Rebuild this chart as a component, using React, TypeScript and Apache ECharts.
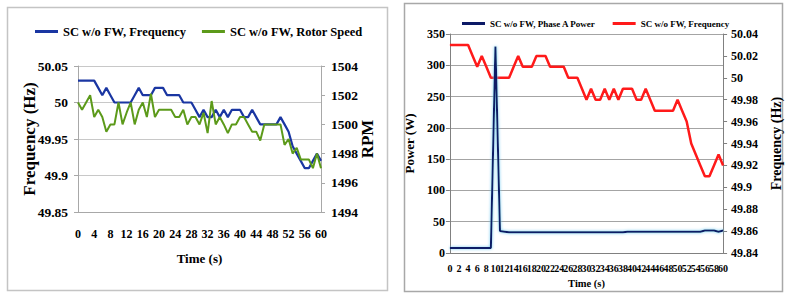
import React, { useEffect, useRef } from 'react';
import * as echarts from 'echarts';

const timeSec = [
  '0', '1', '2', '3', '4', '5', '6', '7', '8', '9', '10', '11', '12', '13', '14', '15', '16', '17', '18', '19', '20',
  '21', '22', '23', '24', '25', '26', '27', '28', '29', '30', '31', '32', '33', '34', '35', '36', '37', '38', '39', '40',
  '41', '42', '43', '44', '45', '46', '47', '48', '49', '50', '51', '52', '53', '54', '55', '56', '57', '58', '59', '60',
];

// SC w/o FW, Frequency (Hz)
const freqHz = [
  50.03, 50.03, 50.03, 50.03, 50.03, 50.02, 50.01, 50.02, 50.01, 50.0,
  50.0, 50.0, 50.0, 50.0, 50.01, 50.02, 50.01, 50.01, 50.01, 50.02,
  50.02, 50.02, 50.01, 50.01, 50.01, 50.01, 50.0, 50.0, 50.0, 49.99,
  49.98, 49.99, 49.98, 49.98, 49.99, 49.98, 49.99, 49.98, 49.99, 49.99,
  49.99, 49.98, 49.98, 49.99, 49.98, 49.97, 49.97, 49.97, 49.97, 49.97,
  49.98, 49.97, 49.96, 49.94, 49.93, 49.92, 49.91, 49.91, 49.92, 49.93,
  49.92,
];

// SC w/o FW, Rotor Speed (RPM)
const rotorRpm = [
  1501.5, 1501.0, 1501.5, 1502.0, 1500.5, 1501.0, 1500.5, 1499.5, 1500.0, 1500.0,
  1501.5, 1500.0, 1500.8, 1501.5, 1500.0, 1501.0, 1501.5, 1500.5, 1502.1, 1500.5,
  1501.0, 1501.0, 1501.0, 1501.0, 1500.5, 1500.5, 1501.0, 1500.0, 1500.5, 1500.5,
  1500.0, 1500.8, 1499.4, 1501.6, 1500.0, 1500.5, 1500.0, 1499.4, 1500.0, 1500.0,
  1500.5, 1500.5, 1500.0, 1499.5, 1499.5, 1498.9, 1500.0, 1500.0, 1500.0, 1500.0,
  1500.0, 1498.6, 1499.0, 1498.0, 1498.4, 1497.6, 1497.6, 1497.6, 1497.0, 1498.0,
  1497.0,
];

// SC w/o FW, Phase A Power (W)
const powerW = [
  8, 8, 8, 8, 8, 8, 8, 8, 8, 8,
  330, 35, 34, 33, 33, 33, 33, 33, 33, 33,
  33, 33, 33, 33, 33, 33, 33, 33, 33, 33,
  33, 33, 33, 33, 33, 33, 33, 33, 33, 34,
  34, 34, 34, 34, 34, 34, 34, 34, 34, 34,
  34, 34, 34, 34, 34, 34, 36, 36, 36, 34,
  36,
];

const FONT = '"Liberation Serif", "Times New Roman", serif';

const txt = (size: number) => ({
  fontFamily: FONT,
  fontWeight: 'bold' as const,
  fontSize: size,
  color: '#000',
});

function leftOption(): any {
  return {
    animation: false,
    textStyle: { fontFamily: FONT, fontWeight: 'bold', color: '#000' },
    graphic: [
      {
        type: 'rect',
        silent: true,
        z: -10,
        shape: { x: 7.5, y: 7.5, width: 380, height: 283 },
        style: { fill: '#fff', stroke: '#c4c4c4', lineWidth: 1.5 },
      },
    ],
    legend: {
      left: 35,
      top: 25,
      padding: 0,
      icon: 'rect',
      itemWidth: 23,
      itemHeight: 3,
      itemGap: 16,
      textStyle: txt(12.5),
      data: ['SC w/o FW, Frequency', 'SC w/o FW, Rotor Speed'],
    },
    grid: { left: 78, top: 66, width: 243, height: 146 },
    xAxis: {
      type: 'category',
      data: timeSec,
      boundaryGap: false,
      axisTick: { show: false },
      axisLine: { lineStyle: { color: '#a8a8a8', width: 1 } },
      axisLabel: { ...txt(12), interval: 3, margin: 16, showMaxLabel: true },
      name: 'Time (s)',
      nameLocation: 'middle',
      nameGap: 40,
      nameTextStyle: txt(13),
    },
    yAxis: [
      {
        type: 'value',
        position: 'left',
        min: 49.85,
        max: 50.05,
        interval: 0.05,
        axisLine: { show: true, lineStyle: { color: '#a8a8a8' } },
        axisTick: { show: true, length: 4, lineStyle: { color: '#a8a8a8' } },
        splitLine: { show: true, lineStyle: { color: '#c8c8c8', width: 1 } },
        axisLabel: { ...txt(13.5), margin: 10 },
        name: 'Frequency (Hz)',
        nameLocation: 'middle',
        nameRotate: 90,
        nameGap: 40,
        nameMoveOverlap: false,
        nameTextStyle: txt(17),
      },
      {
        type: 'value',
        position: 'right',
        min: 1494,
        max: 1504,
        interval: 2,
        axisLine: { show: true, lineStyle: { color: '#a8a8a8' } },
        axisTick: { show: true, length: 4, lineStyle: { color: '#a8a8a8' } },
        splitLine: { show: false },
        axisLabel: { ...txt(13.5), margin: 10, formatter: (v: number) => String(v) },
        name: 'RPM',
        nameLocation: 'middle',
        nameRotate: 90,
        nameGap: 38,
        nameMoveOverlap: false,
        nameTextStyle: txt(17),
      },
    ],
    series: [
      {
        name: 'SC w/o FW, Frequency',
        type: 'line',
        yAxisIndex: 0,
        data: freqHz,
        symbol: 'none',
        lineStyle: { color: '#1a36a2', width: 2.2 },
        itemStyle: { color: '#1a36a2' },
      },
      {
        name: 'SC w/o FW, Rotor Speed',
        type: 'line',
        yAxisIndex: 1,
        data: rotorRpm,
        symbol: 'none',
        lineStyle: { color: '#5c9a1a', width: 2 },
        itemStyle: { color: '#5c9a1a' },
      },
    ],
  };
}

function rightOption(): any {
  return {
    animation: false,
    textStyle: { fontFamily: FONT, fontWeight: 'bold', color: '#000' },
    graphic: [
      {
        type: 'rect',
        silent: true,
        z: -10,
        shape: { x: 9.5, y: 3.5, width: 378, height: 288 },
        style: { fill: '#fff', stroke: '#a8a8a8', lineWidth: 1.5 },
      },
    ],
    legend: {
      left: 67,
      top: 19,
      padding: 0,
      icon: 'rect',
      itemWidth: 23,
      itemHeight: 3,
      itemGap: 17,
      textStyle: txt(9),
      data: ['SC w/o FW, Phase A Power', 'SC w/o FW, Frequency'],
    },
    grid: { left: 43, top: 34, width: 307, height: 219 },
    xAxis: {
      type: 'category',
      data: timeSec,
      boundaryGap: false,
      axisTick: { show: false },
      axisLine: { lineStyle: { color: '#808080', width: 1 } },
      axisLabel: {
        ...txt(10),
        interval: 0,
        margin: 10,
        hideOverlap: false,
        showMaxLabel: true,
        showMinLabel: true,
        formatter: (v: string, i: number) => (i % 2 === 0 ? v : ''),
      },
      name: 'Time (s)',
      nameLocation: 'middle',
      nameGap: 23,
      nameTextStyle: txt(10.5),
    },
    yAxis: [
      {
        type: 'value',
        position: 'left',
        min: 0,
        max: 350,
        interval: 50,
        axisLine: { show: true, lineStyle: { color: '#808080' } },
        axisTick: { show: true, length: 4, lineStyle: { color: '#808080' } },
        splitLine: { show: true, lineStyle: { color: '#a4a4a4', width: 1 } },
        axisLabel: { ...txt(12), margin: 5 },
        name: 'Power (W)',
        nameLocation: 'middle',
        nameRotate: 90,
        nameGap: 21,
        nameTextStyle: txt(13),
      },
      {
        type: 'value',
        position: 'right',
        min: 49.84,
        max: 50.04,
        interval: 0.02,
        axisLine: { show: true, lineStyle: { color: '#808080' } },
        axisTick: { show: true, length: 4, lineStyle: { color: '#808080' } },
        splitLine: { show: false },
        axisLabel: { ...txt(12), margin: 8 },
        name: 'Frequency (Hz)',
        nameLocation: 'middle',
        nameRotate: 90,
        nameGap: 26,
        nameTextStyle: txt(14),
      },
    ],
    series: [
      {
        name: 'SC w/o FW, Phase A Power',
        type: 'line',
        yAxisIndex: 0,
        data: powerW,
        symbol: 'none',
        z: 3,
        lineStyle: {
          color: '#0c1a66',
          width: 2,
          shadowColor: '#6cc8f2',
          shadowBlur: 3,
        },
        itemStyle: { color: '#0c1a66' },
      },
      {
        name: 'SC w/o FW, Frequency',
        type: 'line',
        yAxisIndex: 1,
        data: freqHz,
        symbol: 'none',
        z: 2,
        lineStyle: { color: '#ff1a1a', width: 2.5 },
        itemStyle: { color: '#ff1a1a' },
      },
    ],
  };
}

export default function App() {
  const leftRef = useRef<HTMLDivElement>(null);
  const rightRef = useRef<HTMLDivElement>(null);

  useEffect(() => {
    const c1 = echarts.init(leftRef.current as HTMLDivElement, null, { renderer: 'svg' });
    c1.setOption(leftOption());
    const c2 = echarts.init(rightRef.current as HTMLDivElement, null, { renderer: 'svg' });
    c2.setOption(rightOption());
    return () => {
      c1.dispose();
      c2.dispose();
    };
  }, []);

  return (
    <div style={{ position: 'fixed', left: 0, top: 0, width: 791, height: 300, background: '#fff' }}>
      <div ref={leftRef} style={{ position: 'absolute', left: 0, top: 0, width: 395, height: 300 }} />
      <div ref={rightRef} style={{ position: 'absolute', left: 395, top: 0, width: 396, height: 300 }} />
    </div>
  );
}
